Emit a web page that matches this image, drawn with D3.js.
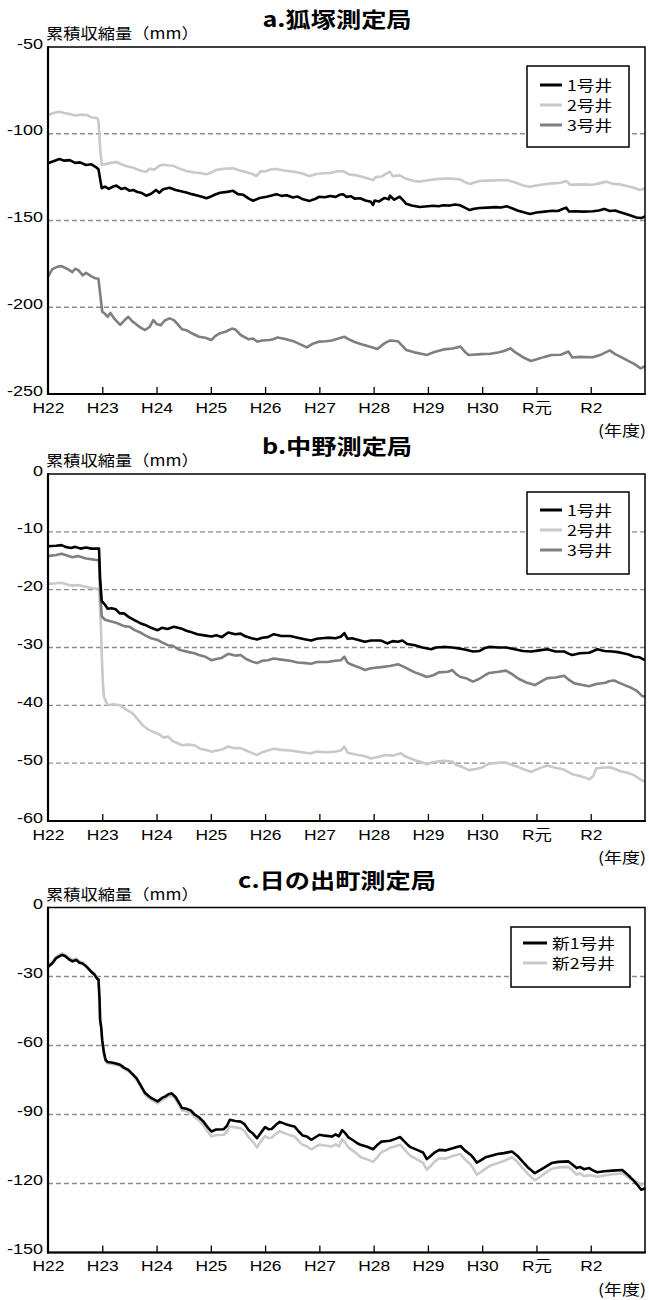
<!DOCTYPE html>
<html>
<head>
<meta charset="utf-8">
<script src="https://cdn.jsdelivr.net/npm/d3@7"></script>
<style>
  html, body { margin: 0; padding: 0; background: #fff; }
  svg { display: block; }
  text { font-family: "Liberation Sans", Arial, "Noto Sans CJK JP", sans-serif; fill: #000; }
  .cjk { font-family: "Noto Sans CJK JP", sans-serif; }
</style>
</head>
<body>
<svg id="chart" width="649" height="1300"></svg>
<script>
// Fiscal-year labels along the bottom axis (one tick per year boundary)
const yearLabels = ["H22", "H23", "H24", "H25", "H26", "H27", "H28", "H29", "H30", "R元", "R2"];

// Cumulative shrinkage (mm); each point is [years since start of H22, value]
// a. 狐塚測定局
const kitsunezuka1 = [[0,-117],[0.1,-115.8],[0.21,-114.6],[0.3,-115.5],[0.4,-115.2],[0.5,-116.8],[0.59,-116.5],[0.7,-118],[0.8,-117.6],[0.89,-119.4],[0.93,-120.5],[0.96,-126],[0.99,-131.4],[1.05,-130.5],[1.12,-131.8],[1.2,-130.4],[1.26,-129.9],[1.35,-131.8],[1.42,-131.2],[1.5,-132.8],[1.57,-132.4],[1.65,-133.6],[1.73,-134.2],[1.81,-135.7],[1.9,-134.6],[1.99,-132.4],[2.05,-134],[2.12,-132],[2.24,-131.1],[2.35,-132.4],[2.45,-133.2],[2.55,-133.9],[2.65,-134.8],[2.75,-135.6],[2.85,-136.4],[2.92,-137.2],[3.0,-136.2],[3.08,-135],[3.17,-134],[3.3,-133.5],[3.41,-132.9],[3.5,-134.8],[3.6,-135.2],[3.7,-137.4],[3.78,-138.6],[3.9,-137],[4.03,-136.3],[4.12,-135.6],[4.21,-134.8],[4.3,-135.8],[4.4,-135.4],[4.51,-136.7],[4.6,-136.2],[4.7,-137.8],[4.82,-138.7],[4.92,-137.6],[5.0,-136.3],[5.1,-136.6],[5.2,-135.9],[5.3,-136.4],[5.37,-135.2],[5.44,-134.9],[5.5,-136.4],[5.58,-136],[5.65,-137.4],[5.75,-137.2],[5.85,-138.5],[5.95,-139.2],[5.99,-141],[6.02,-138.5],[6.1,-139],[6.2,-137],[6.28,-137.8],[6.3,-135.7],[6.38,-138],[6.48,-136.3],[6.55,-138.6],[6.6,-140.4],[6.7,-141.3],[6.85,-142.2],[7.0,-141.8],[7.1,-141.5],[7.2,-141.8],[7.28,-141.2],[7.4,-141.4],[7.5,-140.8],[7.59,-141.2],[7.68,-142.6],[7.77,-144],[7.85,-143.2],[7.95,-142.8],[8.1,-142.6],[8.25,-142.3],[8.35,-142.5],[8.45,-141.8],[8.55,-142.9],[8.65,-144.2],[8.78,-145.4],[8.88,-146.2],[9.0,-145.4],[9.15,-144.9],[9.3,-144.4],[9.4,-144.5],[9.48,-143.4],[9.55,-142.6],[9.6,-144.8],[9.7,-144.7],[9.85,-144.9],[10.04,-144.7],[10.15,-144.2],[10.25,-143.3],[10.35,-144.5],[10.45,-144.2],[10.53,-145.1],[10.65,-146.2],[10.75,-147.3],[10.84,-148.3],[10.93,-148.6],[11,-147.6]];
const kitsunezuka2 = [[0,-89.2],[0.1,-88],[0.21,-87.3],[0.3,-88],[0.4,-88.6],[0.5,-89.5],[0.6,-89],[0.71,-89.2],[0.8,-90.5],[0.91,-91.1],[0.93,-93],[0.96,-108],[0.99,-118],[1.05,-117.5],[1.15,-116.8],[1.26,-116.3],[1.35,-117.6],[1.44,-118.6],[1.55,-119.4],[1.65,-120.6],[1.75,-121.6],[1.81,-121.9],[1.88,-120],[1.95,-120.8],[2.05,-118.5],[2.12,-117.9],[2.2,-118.2],[2.3,-118.4],[2.4,-119.8],[2.55,-121.5],[2.7,-122.3],[2.8,-122.6],[2.92,-123.4],[3.0,-122.5],[3.1,-120.8],[3.25,-120.2],[3.41,-119.9],[3.52,-121],[3.66,-122.2],[3.75,-123],[3.84,-124.4],[3.92,-121.6],[4.0,-121.8],[4.1,-120.6],[4.21,-120.3],[4.35,-121.2],[4.51,-121.8],[4.65,-122.6],[4.82,-124.4],[4.95,-123.2],[5.07,-122.8],[5.2,-122.6],[5.32,-121.8],[5.44,-121.5],[5.55,-123.4],[5.7,-124],[5.85,-125.4],[5.99,-126.7],[6.04,-125],[6.15,-124.6],[6.3,-121.9],[6.35,-124.4],[6.48,-124],[6.6,-126],[6.75,-127.2],[6.85,-127.6],[7.0,-126.8],[7.2,-126],[7.4,-125.8],[7.59,-126.3],[7.68,-127.8],[7.77,-128.9],[7.95,-127.2],[8.1,-127],[8.3,-126.8],[8.45,-126.7],[8.6,-128],[8.75,-129.8],[8.88,-130.5],[9.05,-129.5],[9.2,-128.9],[9.3,-128.6],[9.45,-128.2],[9.55,-127.2],[9.62,-129.4],[9.8,-129.2],[10.04,-129.4],[10.15,-128.6],[10.29,-127.6],[10.4,-128.9],[10.55,-129.2],[10.7,-130.4],[10.8,-131.2],[10.9,-132.4],[11,-131.6]];
const kitsunezuka3 = [[0,-182.4],[0.08,-178],[0.18,-176.6],[0.25,-176.3],[0.35,-177.8],[0.45,-179.7],[0.5,-177.8],[0.56,-178.6],[0.64,-181.6],[0.7,-180.2],[0.8,-182.2],[0.87,-183.3],[0.93,-183.6],[0.96,-192],[1.0,-202.6],[1.05,-203.8],[1.1,-205.5],[1.15,-203.3],[1.22,-206.5],[1.33,-210.2],[1.4,-207.8],[1.48,-205.5],[1.55,-208],[1.63,-210],[1.72,-212],[1.79,-213.1],[1.87,-211.4],[1.94,-207.4],[2.0,-209.6],[2.08,-210.4],[2.15,-207.6],[2.24,-206.4],[2.32,-207.4],[2.4,-210.2],[2.47,-212.7],[2.55,-213.2],[2.65,-215],[2.78,-217],[2.9,-217.6],[3.01,-218.9],[3.08,-216.6],[3.16,-215.1],[3.28,-214],[3.39,-212.3],[3.46,-213],[3.55,-216],[3.7,-218.5],[3.78,-218],[3.85,-219.8],[3.95,-219.2],[4.08,-218.9],[4.15,-218.4],[4.23,-217.4],[4.35,-218.2],[4.54,-219.8],[4.65,-221.4],[4.77,-223.1],[4.88,-221],[5.0,-219.8],[5.12,-219.6],[5.23,-219.2],[5.35,-218],[5.46,-217],[5.55,-218.6],[5.65,-220],[5.76,-221.2],[5.92,-222.6],[6.07,-224],[6.15,-222],[6.22,-220.4],[6.3,-219.2],[6.45,-219.6],[6.52,-222],[6.6,-224.6],[6.75,-226],[6.9,-227],[6.98,-227.5],[7.1,-226],[7.29,-224.3],[7.45,-223.8],[7.6,-222.7],[7.68,-225.6],[7.75,-227.5],[7.98,-227],[8.15,-226.8],[8.29,-226.1],[8.4,-225.2],[8.52,-223.7],[8.62,-226.2],[8.75,-228.8],[8.9,-231],[9.05,-229.6],[9.15,-228.6],[9.28,-227.5],[9.45,-227.4],[9.59,-225.5],[9.66,-229],[9.8,-228.6],[10.04,-228.8],[10.2,-227.2],[10.35,-224.9],[10.45,-227],[10.58,-229],[10.7,-231],[10.8,-232.6],[10.92,-235.2],[11,-234]];

// b. 中野測定局
const nakano1 = [[0,-12.5],[0.15,-12.4],[0.25,-12.3],[0.32,-12.6],[0.42,-12.8],[0.5,-12.6],[0.6,-12.9],[0.7,-12.7],[0.8,-12.9],[0.94,-12.9],[0.96,-18],[0.99,-22],[1.05,-22.6],[1.1,-23.3],[1.17,-23.2],[1.25,-23.4],[1.32,-24.1],[1.4,-24.1],[1.5,-24.8],[1.6,-25.3],[1.7,-25.8],[1.79,-26.1],[1.9,-26.6],[2.02,-27],[2.1,-26.6],[2.2,-26.8],[2.32,-26.4],[2.45,-26.7],[2.55,-27.1],[2.63,-27.3],[2.75,-27.7],[2.88,-27.9],[3.01,-28.1],[3.1,-27.9],[3.2,-28.2],[3.32,-27.4],[3.45,-27.7],[3.55,-27.6],[3.62,-28],[3.75,-28.4],[3.85,-28.6],[3.95,-28.3],[4.05,-28.2],[4.16,-27.7],[4.3,-28],[4.46,-28],[4.6,-28.3],[4.75,-28.6],[4.85,-28.8],[4.95,-28.5],[5.15,-28.3],[5.3,-28.4],[5.4,-28.1],[5.46,-27.5],[5.52,-28.5],[5.6,-28.4],[5.72,-28.7],[5.84,-29],[5.95,-28.8],[6.14,-28.8],[6.25,-29.3],[6.35,-28.9],[6.45,-29],[6.53,-28.8],[6.62,-29.4],[6.76,-29.6],[6.9,-30],[7.06,-30.3],[7.15,-30],[7.29,-29.9],[7.45,-30],[7.6,-30.2],[7.7,-30.4],[7.83,-30.7],[7.95,-30.6],[8.05,-30.1],[8.13,-29.9],[8.3,-30],[8.44,-30],[8.6,-30.3],[8.75,-30.6],[8.9,-30.7],[9.05,-30.5],[9.2,-30.3],[9.35,-30.7],[9.51,-30.7],[9.6,-31.1],[9.66,-31.3],[9.8,-31],[9.97,-30.9],[10.05,-30.6],[10.12,-30.3],[10.25,-30.6],[10.4,-30.7],[10.5,-30.8],[10.6,-31],[10.7,-31.2],[10.8,-31.6],[10.9,-31.7],[11,-32.2]];
const nakano2 = [[0,-19],[0.15,-18.9],[0.25,-18.8],[0.35,-19.1],[0.45,-19.3],[0.55,-19.2],[0.7,-19.5],[0.85,-19.8],[0.94,-19.9],[0.97,-25],[0.99,-31],[1.01,-36],[1.03,-38.5],[1.1,-40],[1.2,-39.8],[1.33,-40],[1.45,-40.8],[1.56,-41.4],[1.65,-42.4],[1.75,-43.5],[1.85,-44.2],[1.94,-44.6],[2.05,-45],[2.13,-45.6],[2.21,-45.4],[2.3,-46.2],[2.4,-46.6],[2.47,-46.9],[2.58,-46.8],[2.7,-46.9],[2.8,-47.5],[2.9,-47.7],[3.01,-48],[3.12,-47.8],[3.22,-47.6],[3.32,-47.1],[3.42,-47.4],[3.55,-47.4],[3.65,-47.8],[3.75,-48.2],[3.85,-48.6],[3.95,-48.1],[4.05,-47.8],[4.16,-47.5],[4.3,-47.7],[4.46,-47.8],[4.6,-48],[4.75,-48.2],[4.85,-48.3],[4.95,-48],[5.15,-48.1],[5.3,-48],[5.4,-47.8],[5.46,-47.1],[5.52,-48.2],[5.62,-48.4],[5.72,-48.6],[5.84,-48.8],[5.95,-49.2],[6.1,-48.9],[6.21,-48.6],[6.35,-48.7],[6.5,-48.3],[6.6,-48.9],[6.68,-49.2],[6.76,-49.5],[6.88,-49.8],[6.98,-50.2],[7.1,-49.8],[7.29,-49.6],[7.45,-49.7],[7.52,-50.3],[7.62,-50.6],[7.75,-51.2],[7.88,-51],[7.98,-50.8],[8.1,-50.2],[8.21,-50],[8.32,-49.9],[8.44,-49.9],[8.55,-50.3],[8.65,-50.6],[8.75,-51],[8.9,-51.5],[9.05,-50.9],[9.2,-50.4],[9.35,-50.8],[9.51,-51.1],[9.58,-51.5],[9.66,-51.9],[9.8,-52.2],[9.9,-52.5],[9.97,-52.8],[10.05,-52.2],[10.1,-50.9],[10.2,-50.8],[10.35,-50.7],[10.45,-51],[10.55,-51.4],[10.66,-51.6],[10.78,-52],[10.88,-52.6],[10.95,-53],[11,-53.2]];
const nakano3 = [[0,-14.2],[0.15,-14],[0.25,-13.8],[0.35,-14.1],[0.45,-14.4],[0.55,-14.2],[0.7,-14.6],[0.85,-14.8],[0.94,-14.9],[0.96,-20],[0.99,-24.6],[1.05,-25.2],[1.17,-25.5],[1.28,-25.8],[1.4,-26.3],[1.5,-26.4],[1.6,-27],[1.7,-27.4],[1.79,-27.9],[1.9,-28.4],[2.02,-28.7],[2.1,-29.1],[2.21,-29.6],[2.3,-29.7],[2.4,-30.3],[2.47,-30.5],[2.6,-30.8],[2.7,-31],[2.78,-31.3],[2.9,-31.6],[3.01,-32.2],[3.1,-32],[3.2,-31.8],[3.32,-31.1],[3.45,-31.4],[3.55,-31.3],[3.65,-32],[3.75,-32.4],[3.85,-32.7],[3.95,-32.3],[4.05,-32.2],[4.16,-31.9],[4.3,-32.1],[4.46,-32.3],[4.6,-32.6],[4.75,-32.7],[4.85,-32.8],[4.95,-32.5],[5.15,-32.5],[5.3,-32.3],[5.4,-32.2],[5.46,-31.6],[5.52,-32.6],[5.6,-33],[5.72,-33.4],[5.84,-33.9],[5.95,-33.6],[6.14,-33.4],[6.3,-33.2],[6.45,-32.9],[6.55,-33.3],[6.65,-33.8],[6.76,-34.3],[6.88,-34.7],[6.98,-35.1],[7.1,-34.8],[7.2,-34.3],[7.37,-34.2],[7.45,-33.9],[7.52,-34.6],[7.6,-35.1],[7.7,-35.3],[7.83,-35.9],[7.95,-35.4],[8.05,-34.8],[8.13,-34.4],[8.3,-34.2],[8.44,-34],[8.55,-34.6],[8.67,-35.4],[8.8,-36],[8.97,-36.5],[9.1,-35.8],[9.2,-35.3],[9.35,-35.2],[9.51,-34.9],[9.6,-35.6],[9.7,-36.2],[9.85,-36.5],[9.97,-36.7],[10.1,-36.3],[10.27,-36.1],[10.35,-35.8],[10.43,-35.7],[10.55,-36.2],[10.65,-36.6],[10.73,-36.9],[10.85,-37.5],[10.95,-38.4],[11,-38.5]];

// c. 日の出町測定局
const hinodeNew1 = [[0,-25.9],[0.08,-24.2],[0.15,-22],[0.26,-20.6],[0.32,-21.2],[0.38,-22.4],[0.45,-23.4],[0.52,-22.8],[0.58,-24],[0.64,-24.4],[0.72,-26],[0.79,-27.8],[0.85,-29],[0.91,-31.1],[0.93,-31.3],[0.95,-40],[0.96,-48.8],[0.98,-52],[1.0,-58],[1.03,-63],[1.06,-66.2],[1.1,-67.2],[1.17,-67.4],[1.25,-67.8],[1.33,-68.4],[1.4,-69.6],[1.48,-70.6],[1.55,-72.2],[1.63,-74.2],[1.7,-77],[1.79,-80.7],[1.9,-82.8],[2.02,-84.3],[2.1,-82.8],[2.17,-82],[2.22,-81.2],[2.28,-80.8],[2.35,-82.4],[2.42,-85.2],[2.47,-87.2],[2.55,-87.5],[2.63,-88.2],[2.7,-90],[2.78,-91.2],[2.86,-93],[2.93,-95.2],[3.01,-97.4],[3.1,-96.5],[3.24,-96.4],[3.3,-94.8],[3.35,-92.3],[3.45,-92.8],[3.55,-93.1],[3.62,-94.2],[3.7,-96.8],[3.78,-98.4],[3.85,-100.3],[3.92,-98],[4.0,-95.5],[4.06,-96.4],[4.12,-96.3],[4.2,-94.5],[4.27,-93.2],[4.38,-94.2],[4.46,-94.8],[4.54,-95.2],[4.62,-97.4],[4.69,-99.1],[4.77,-99.6],[4.85,-101],[4.92,-100],[5.0,-98.8],[5.1,-99.2],[5.23,-99.6],[5.3,-98.6],[5.36,-99.5],[5.42,-96.8],[5.48,-98.2],[5.53,-99.8],[5.62,-101.2],[5.7,-102.5],[5.76,-103.2],[5.88,-104],[5.99,-105.1],[6.06,-103.4],[6.14,-101.8],[6.22,-101.6],[6.3,-101.4],[6.4,-100.6],[6.49,-99.8],[6.56,-101.6],[6.62,-103],[6.68,-104.2],[6.8,-105.4],[6.91,-106.5],[6.98,-109.4],[7.05,-108],[7.12,-106.6],[7.21,-105.4],[7.32,-105.6],[7.44,-104.8],[7.52,-104.2],[7.6,-103.7],[7.68,-105.6],[7.79,-107.6],[7.85,-109.2],[7.9,-110.9],[7.98,-109.8],[8.06,-108.6],[8.15,-108],[8.28,-107.2],[8.4,-106.8],[8.55,-106.1],[8.65,-108],[8.75,-110.6],[8.85,-113.2],[8.97,-115.5],[9.05,-114.4],[9.15,-113],[9.28,-111.1],[9.4,-110.6],[9.59,-110.4],[9.65,-111.5],[9.74,-113.3],[9.8,-112.8],[9.88,-113.8],[9.97,-113.3],[10.05,-114.4],[10.12,-115.1],[10.25,-114.7],[10.4,-114.4],[10.58,-114.1],[10.65,-115.5],[10.73,-117.3],[10.8,-119],[10.88,-121.2],[10.93,-122.7],[11,-122.1]];
const hinodeNew2 = [[0,-25.4],[0.08,-23.6],[0.15,-21.4],[0.26,-20],[0.32,-20.6],[0.38,-21.8],[0.45,-22.8],[0.52,-22.2],[0.58,-23.5],[0.64,-23.9],[0.72,-25.5],[0.79,-27.4],[0.85,-28.6],[0.91,-30.8],[0.93,-31],[0.95,-40],[0.96,-48.8],[0.98,-52.5],[1.0,-58.5],[1.03,-63.5],[1.06,-66.8],[1.1,-67.8],[1.17,-68],[1.25,-68.4],[1.33,-69],[1.4,-70.2],[1.48,-71.2],[1.55,-72.8],[1.63,-74.9],[1.7,-77.7],[1.79,-81.5],[1.9,-83.6],[2.02,-85.2],[2.1,-83.7],[2.17,-82.9],[2.22,-82.1],[2.28,-81.7],[2.35,-83.3],[2.42,-86.1],[2.47,-88.2],[2.55,-88.5],[2.63,-89.3],[2.7,-91.2],[2.78,-92.6],[2.86,-94.6],[2.93,-97],[3.01,-99.5],[3.1,-98.9],[3.24,-98.8],[3.3,-97.4],[3.35,-95.2],[3.45,-95.6],[3.55,-96],[3.62,-97.2],[3.7,-100],[3.78,-101.9],[3.85,-104.3],[3.92,-101.8],[4.0,-99.4],[4.06,-100.2],[4.12,-100.1],[4.2,-98.4],[4.27,-97.3],[4.38,-98.3],[4.46,-99],[4.54,-99.5],[4.62,-101.6],[4.69,-103.2],[4.77,-103.8],[4.85,-105.2],[4.92,-104.2],[5.0,-103.1],[5.1,-103.5],[5.23,-103.9],[5.3,-103],[5.36,-103.9],[5.42,-100.8],[5.48,-102.4],[5.53,-104.2],[5.62,-105.8],[5.7,-107.2],[5.76,-108.6],[5.88,-109.5],[5.99,-110.6],[6.06,-108.8],[6.14,-106.4],[6.22,-105.6],[6.3,-104.5],[6.4,-103.8],[6.49,-103.1],[6.56,-105],[6.62,-106.6],[6.68,-108],[6.8,-109.5],[6.91,-111],[6.98,-114],[7.05,-112.4],[7.12,-110.6],[7.21,-109],[7.32,-109.2],[7.44,-108.2],[7.52,-107.6],[7.6,-107.2],[7.68,-109.4],[7.79,-111.8],[7.85,-114],[7.9,-116.2],[7.98,-115],[8.06,-113.6],[8.15,-112.2],[8.28,-111.2],[8.4,-110.2],[8.55,-108.6],[8.65,-110.6],[8.75,-113.4],[8.85,-116],[8.97,-118.6],[9.05,-117.4],[9.15,-115.6],[9.28,-113.6],[9.4,-113],[9.59,-112.8],[9.65,-114],[9.74,-116.2],[9.8,-115.6],[9.88,-116.8],[9.97,-116.4],[10.05,-116.6],[10.12,-117.1],[10.25,-116.5],[10.4,-116],[10.58,-115.6],[10.65,-116.6],[10.73,-118],[10.8,-118.6],[10.88,-119.8],[10.93,-120.8],[11,-119.8]];

// Y-axis ticks per panel
const ticksA = [-50, -100, -150, -200, -250];
const ticksB = [0, -10, -20, -30, -40, -50, -60];
const ticksC = [0, -30, -60, -90, -120, -150];

const panels = [
  { title: "a.狐塚測定局", top: 47, height: 347, domain: [-250, -50], ticks: ticksA,
    legendBox: { x: 527, y: 66, w: 102, h: 81 }, legendRowY: 19, legendLine: [540, 562],
    series: [
      { name: "1号井", data: kitsunezuka1, color: "#000000" },
      { name: "2号井", data: kitsunezuka2, color: "#c9c9c9" },
      { name: "3号井", data: kitsunezuka3, color: "#7f7f7f" }
    ], drawOrder: [1, 2, 0] },
  { title: "b.中野測定局", top: 474, height: 347, domain: [-60, 0], ticks: ticksB,
    legendBox: { x: 527, y: 492, w: 102, h: 82 }, legendRowY: 18, legendLine: [540, 562],
    series: [
      { name: "1号井", data: nakano1, color: "#000000" },
      { name: "2号井", data: nakano2, color: "#c9c9c9" },
      { name: "3号井", data: nakano3, color: "#7f7f7f" }
    ], drawOrder: [1, 2, 0] },
  { title: "c.日の出町測定局", top: 907.5, height: 345, domain: [-150, 0], ticks: ticksC,
    legendBox: { x: 511, y: 927, w: 119, h: 60 }, legendRowY: 16, legendLine: [523, 547],
    series: [
      { name: "新1号井", data: hinodeNew1, color: "#000000" },
      { name: "新2号井", data: hinodeNew2, color: "#c9c9c9" }
    ], drawOrder: [1, 0] }
];

const svg = d3.select("#chart");
const plotLeft = 48, plotRight = 645;
const STRETCH = 1.2; // horizontal widening applied to all lettering

// Text placed through a scaled group so glyphs come out wide, like the print face
function wideText(parent, x, y, str, opts) {
  const g = parent.append("g")
    .attr("transform", `translate(${x},${y}) scale(${opts.sx || STRETCH},1)`);
  const t = g.append("text")
    .attr("x", 0).attr("y", 0)
    .attr("text-anchor", opts.anchor || "start")
    .style("font-size", opts.size + "px")
    .style("font-weight", opts.weight || "normal")
    .text(str);
  if (opts.cjk) t.attr("class", "cjk");
  return t;
}

panels.forEach(p => {
  const x = d3.scaleLinear().domain([0, 11]).range([plotLeft, plotRight]);
  const y = d3.scaleLinear().domain(p.domain).range([p.top + p.height, p.top]);
  const bottom = p.top + p.height;
  const g = svg.append("g");

  // Title and axis captions
  wideText(g, 337, p.top - 20, p.title, { size: 21, weight: "bold", anchor: "middle", cjk: true });
  wideText(g, 46, p.top - 8, "累積収縮量（mm）", { size: 15, cjk: true, sx: 1.15 });
  wideText(g, plotRight + 1, bottom + 42, "(年度)", { size: 15, anchor: "end", cjk: true });

  // Dashed reference lines at interior ticks
  g.append("g").selectAll("line")
    .data(p.ticks.filter(v => v !== p.domain[0] && v !== p.domain[1]))
    .join("line")
    .attr("x1", plotLeft).attr("x2", plotRight)
    .attr("y1", d => y(d)).attr("y2", d => y(d))
    .attr("stroke", "#8e8e8e").attr("stroke-width", 1.3)
    .attr("stroke-dasharray", "5,3");

  // Left axis labels
  const yAxis = d3.axisLeft(y).tickValues(p.ticks).tickSize(0).tickPadding(0)
    .tickFormat(d => String(d));
  const yg = g.append("g").attr("transform", `translate(${plotLeft},0)`).call(yAxis);
  yg.select(".domain").remove();
  yg.selectAll("text")
    .attr("x", 0).attr("dy", null).attr("y", 1)
    .attr("transform", `translate(-5,0) scale(${STRETCH},1)`)
    .style("font-size", "15px").style("font-family", "Liberation Sans, Arial, sans-serif")
    .attr("fill", "#000");

  // Bottom axis: inward year ticks and fiscal-year labels
  const xAxis = d3.axisBottom(x).tickValues(d3.range(0, 11)).tickSize(0).tickPadding(0)
    .tickFormat(i => yearLabels[i]);
  const xg = g.append("g").attr("transform", `translate(0,${bottom})`).call(xAxis);
  xg.select(".domain").remove();
  xg.selectAll(".tick").filter(d => d > 0).select("line")
    .attr("y1", 0).attr("y2", -7).attr("stroke", "#000").attr("stroke-width", 1.3);
  xg.selectAll("text")
    .attr("y", 19).attr("dy", null)
    .attr("transform", `scale(${STRETCH},1)`)
    .style("font-size", "14.5px").style("font-family", "Liberation Sans, Arial, Noto Sans CJK JP, sans-serif")
    .attr("fill", "#000");

  // Series lines
  const line = d3.line().x(d => x(d[0])).y(d => y(d[1]));
  const clipId = "clip" + Math.round(p.top);
  g.append("clipPath").attr("id", clipId).append("rect")
    .attr("x", plotLeft).attr("y", p.top).attr("width", plotRight - plotLeft).attr("height", p.height);
  const lines = g.append("g").attr("clip-path", `url(#${clipId})`);
  p.drawOrder.forEach(i => {
    const s = p.series[i];
    lines.append("path").datum(s.data)
      .attr("d", line)
      .attr("fill", "none")
      .attr("stroke", s.color)
      .attr("stroke-width", 2.6)
      .attr("stroke-linejoin", "round");
  });

  // Frame: thin top/right, heavier left/bottom axes
  g.append("rect").attr("x", plotLeft).attr("y", p.top)
    .attr("width", plotRight - plotLeft).attr("height", p.height)
    .attr("fill", "none").attr("stroke", "#000").attr("stroke-width", 1.5);
  g.append("line").attr("x1", plotLeft).attr("x2", plotLeft)
    .attr("y1", p.top - 0.75).attr("y2", bottom + 1)
    .attr("stroke", "#000").attr("stroke-width", 2.2);
  g.append("line").attr("x1", plotLeft - 1).attr("x2", plotRight + 0.75)
    .attr("y1", bottom).attr("y2", bottom)
    .attr("stroke", "#000").attr("stroke-width", 2.2);

  // Legend
  const lb = p.legendBox;
  const lg = g.append("g");
  lg.append("rect").attr("x", lb.x).attr("y", lb.y).attr("width", lb.w).attr("height", lb.h)
    .attr("fill", "#fff").attr("stroke", "#000").attr("stroke-width", 1.5);
  p.series.forEach((s, i) => {
    const cy = lb.y + p.legendRowY + i * 20;
    lg.append("line").attr("x1", p.legendLine[0]).attr("x2", p.legendLine[1])
      .attr("y1", cy).attr("y2", cy)
      .attr("stroke", s.color).attr("stroke-width", 3);
    wideText(lg, p.legendLine[1] + 5, cy + 5.5, s.name, { size: 15, cjk: true, sx: 1.18 });
  });
});
</script>
</body>
</html>
